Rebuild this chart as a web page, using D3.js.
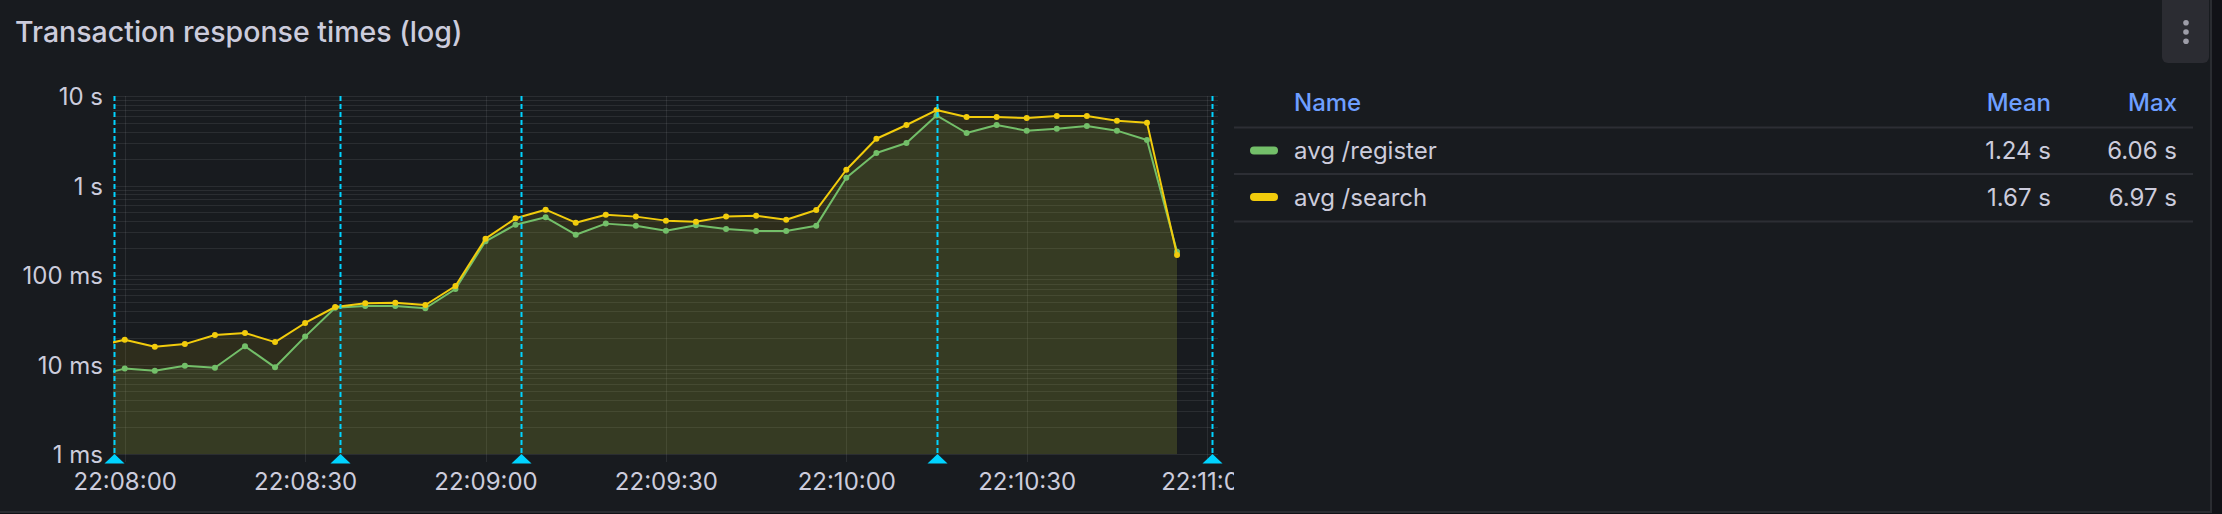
<!DOCTYPE html>
<html>
<head>
<meta charset="utf-8">
<script src="https://cdn.jsdelivr.net/npm/d3@7/dist/d3.min.js"></script>
<style>
  html, body { margin: 0; padding: 0; background: #111217; }
  svg { display: block; font-family: Inter, "Noto Sans", sans-serif; }
</style>
</head>
<body>
<svg id="chart" width="2222" height="514"></svg>
<script>
// ---------------- DATA ----------------
const times = [
  "22:07:55",
  "22:08:00","22:08:05","22:08:10","22:08:15","22:08:20","22:08:25",
  "22:08:30","22:08:35","22:08:40","22:08:45","22:08:50","22:08:55",
  "22:09:00","22:09:05","22:09:10","22:09:15","22:09:20","22:09:25",
  "22:09:30","22:09:35","22:09:40","22:09:45","22:09:50","22:09:55",
  "22:10:00","22:10:05","22:10:10","22:10:15","22:10:20","22:10:25",
  "22:10:30","22:10:35","22:10:40","22:10:45","22:10:50","22:10:55"
];
// response times in milliseconds
const registerMs = [
  7.4,
  9.0, 8.5, 9.7, 9.2, 16.0, 9.3,
  20.5, 43.1, 45, 45, 42.5, 69.8,
  238, 365, 441, 282, 375, 356,
  313, 359, 326, 310, 310, 356,
  1220, 2310, 2980, 6060, 3860, 4740,
  4100, 4310, 4620, 4100, 3220, 182
];
const searchMs = [
  15.9,
  18.9, 15.8, 16.9, 21.4, 22.5, 17.8,
  29.1, 43.9, 48.2, 49, 46.2, 75.4,
  254.5, 430, 537, 384, 472, 449,
  405, 394, 449, 460, 415, 532,
  1500, 3330, 4740, 6970, 5820, 5820,
  5680, 5980, 5980, 5300, 5040, 167
];
const seriesNames = ["avg /register", "avg /search"];
const seriesColors = ["#73BF69", "#F2CC0C"];
const legendMean = ["1.24 s", "1.67 s"];
const legendMax = ["6.06 s", "6.97 s"];
const yTickValues = [1, 10, 100, 1000, 10000];
const yTickLabels = ["1 ms", "10 ms", "100 ms", "1 s", "10 s"];
const annotationTimes = ["22:07:58.2", "22:08:35.8", "22:09:05.9", "22:10:15.0", "22:11:00.8"];
const timeStart = "22:07:58.05";
const timeEnd = "22:11:01.81";
const title = "Transaction response times (log)";

// ---------------- SETUP ----------------
const parseT = d3.timeParse("%H:%M:%S");
const parseTms = d3.timeParse("%H:%M:%S.%L");
const parseAny = s => (s.includes(".") ? parseTms(s.padEnd(12, "0")) : parseT(s));

const svg = d3.select("#chart");
const W = 2222, H = 514;
const plot = { left: 113, right: 1218, top: 96, bottom: 454 };

// backgrounds
svg.append("rect").attr("x", 0).attr("y", 0).attr("width", W).attr("height", H).attr("fill", "#111217");
svg.append("rect").attr("x", -2).attr("y", -2).attr("width", 2213).attr("height", 514)
  .attr("fill", "#181b1f").attr("stroke", "#2a2c31").attr("stroke-width", 2);

// title
svg.append("text").attr("x", 15).attr("y", 41.5)
  .attr("fill", "#ccccdc").attr("font-size", 28.5).attr("font-weight", 500)
  .text(title);

// menu button
svg.append("rect").attr("x", 2162).attr("y", -8).attr("width", 47).attr("height", 71).attr("rx", 6)
  .attr("fill", "#2b2c32");
[22.7, 32, 41.3].forEach(cy => {
  svg.append("circle").attr("cx", 2186).attr("cy", cy).attr("r", 2.8).attr("fill", "#9d9da8");
});

// scales
const x = d3.scaleTime().domain([parseAny(timeStart), parseAny(timeEnd)]).range([plot.left, plot.right]);
const y = d3.scaleLog().domain([1, 10000]).range([plot.bottom, plot.top]);

// clip for plot
const defs = svg.append("defs");
defs.append("clipPath").attr("id", "plotClip").append("rect")
  .attr("x", plot.left).attr("y", plot.top - 10).attr("width", plot.right - plot.left).attr("height", plot.bottom - plot.top + 10);
defs.append("clipPath").attr("id", "chartClip").append("rect")
  .attr("x", 0).attr("y", 0).attr("width", 1234).attr("height", H);

const chartG = svg.append("g").attr("clip-path", "url(#chartClip)");

// horizontal grid (log minor ticks)
const gridColor = "rgba(204,204,220,0.10)";
chartG.append("g").selectAll("line").data(y.ticks()).join("line")
  .attr("x1", plot.left).attr("x2", plot.right)
  .attr("y1", d => Math.round(y(d)) + 0.5).attr("y2", d => Math.round(y(d)) + 0.5)
  .attr("stroke", gridColor).attr("stroke-width", 1);

// vertical grid
const xTicks = x.ticks(d3.timeSecond.every(30));
chartG.append("g").selectAll("line").data(xTicks).join("line")
  .attr("x1", d => Math.round(x(d)) + 0.5).attr("x2", d => Math.round(x(d)) + 0.5)
  .attr("y1", plot.top).attr("y2", plot.bottom + 8)
  .attr("stroke", gridColor).attr("stroke-width", 1);

// y axis labels
const yAxis = d3.axisLeft(y).tickValues(yTickValues).tickFormat((d, i) => yTickLabels[i]).tickSize(0).tickPadding(0);
const yG = chartG.append("g").attr("transform", `translate(${103},0)`).call(yAxis);
yG.select(".domain").remove();
yG.selectAll("text").attr("fill", "#ccccdc").attr("font-size", 24).attr("font-family", "Inter, sans-serif")
  .attr("dy", "0.36em");

// x axis labels
const xAxis = d3.axisBottom(x).tickValues(xTicks).tickFormat(d3.timeFormat("%H:%M:%S")).tickSize(0).tickPadding(0);
const xG = chartG.append("g").attr("transform", `translate(0,${490})`).call(xAxis);
xG.select(".domain").remove();
xG.selectAll("text").attr("fill", "#ccccdc").attr("font-size", 24).attr("font-family", "Inter, sans-serif")
  .attr("dy", 0);

// series
const series = [registerMs, searchMs].map((vals, i) => ({
  name: seriesNames[i], color: seriesColors[i],
  points: vals.map((v, j) => ({ t: parseAny(times[j]), v }))
}));

const plotG = chartG.append("g").attr("clip-path", "url(#plotClip)");
const area = d3.area().x(d => x(d.t)).y0(plot.bottom).y1(d => y(d.v));
const line = d3.line().x(d => x(d.t)).y(d => y(d.v));

series.forEach(s => {
  plotG.append("path").datum(s.points).attr("d", area).attr("fill", s.color).attr("fill-opacity", 0.1);
});
series.forEach(s => {
  plotG.append("path").datum(s.points).attr("d", line).attr("fill", "none")
    .attr("stroke", s.color).attr("stroke-width", 2).attr("stroke-linejoin", "round");
  plotG.append("g").selectAll("circle").data(s.points).join("circle")
    .attr("cx", d => x(d.t)).attr("cy", d => y(d.v)).attr("r", 3).attr("fill", s.color);
});

// annotations
const annColor = "rgb(0,211,255)";
const annG = chartG.append("g");
annotationTimes.forEach(ts => {
  const ax = Math.round(x(parseAny(ts))) + 0.5;
  annG.append("line").attr("x1", ax).attr("x2", ax).attr("y1", plot.top).attr("y2", plot.bottom)
    .attr("stroke", annColor).attr("stroke-width", 2).attr("stroke-dasharray", "5,3");
  annG.append("path")
    .attr("d", `M${ax - 10},${plot.bottom + 9.5} L${ax},${plot.bottom} L${ax + 10},${plot.bottom + 9.5} Z`)
    .attr("fill", annColor);
});

// ---------------- LEGEND TABLE ----------------
const lg = svg.append("g");
const lgLeft = 1234, lgRight = 2193;
const nameX = 1294, meanX = 2051, maxX = 2177;
const headerY = 111;
const sepYs = [127.5, 174, 221.5];
const rowBaselines = [159, 205.5];

lg.append("text").attr("x", nameX).attr("y", headerY).attr("fill", "#6E9FFF")
  .attr("font-size", 24).attr("font-weight", 500).text("Name");
lg.append("text").attr("x", meanX).attr("y", headerY).attr("fill", "#6E9FFF").attr("text-anchor", "end")
  .attr("font-size", 24).attr("font-weight", 500).text("Mean");
lg.append("text").attr("x", maxX).attr("y", headerY).attr("fill", "#6E9FFF").attr("text-anchor", "end")
  .attr("font-size", 24).attr("font-weight", 500).text("Max");

sepYs.forEach(sy => {
  lg.append("line").attr("x1", lgLeft).attr("x2", lgRight).attr("y1", sy).attr("y2", sy)
    .attr("stroke", "#2c2e34").attr("stroke-width", 2);
});

series.forEach((s, i) => {
  const by = rowBaselines[i];
  lg.append("rect").attr("x", 1250).attr("y", by - 12.5).attr("width", 28).attr("height", 8).attr("rx", 4)
    .attr("fill", s.color);
  lg.append("text").attr("x", nameX).attr("y", by).attr("fill", "#ccccdc").attr("font-size", 24).text(s.name);
  lg.append("text").attr("x", meanX).attr("y", by).attr("fill", "#ccccdc").attr("font-size", 24)
    .attr("text-anchor", "end").text(legendMean[i]);
  lg.append("text").attr("x", maxX).attr("y", by).attr("fill", "#ccccdc").attr("font-size", 24)
    .attr("text-anchor", "end").text(legendMax[i]);
});
</script>
</body>
</html>
